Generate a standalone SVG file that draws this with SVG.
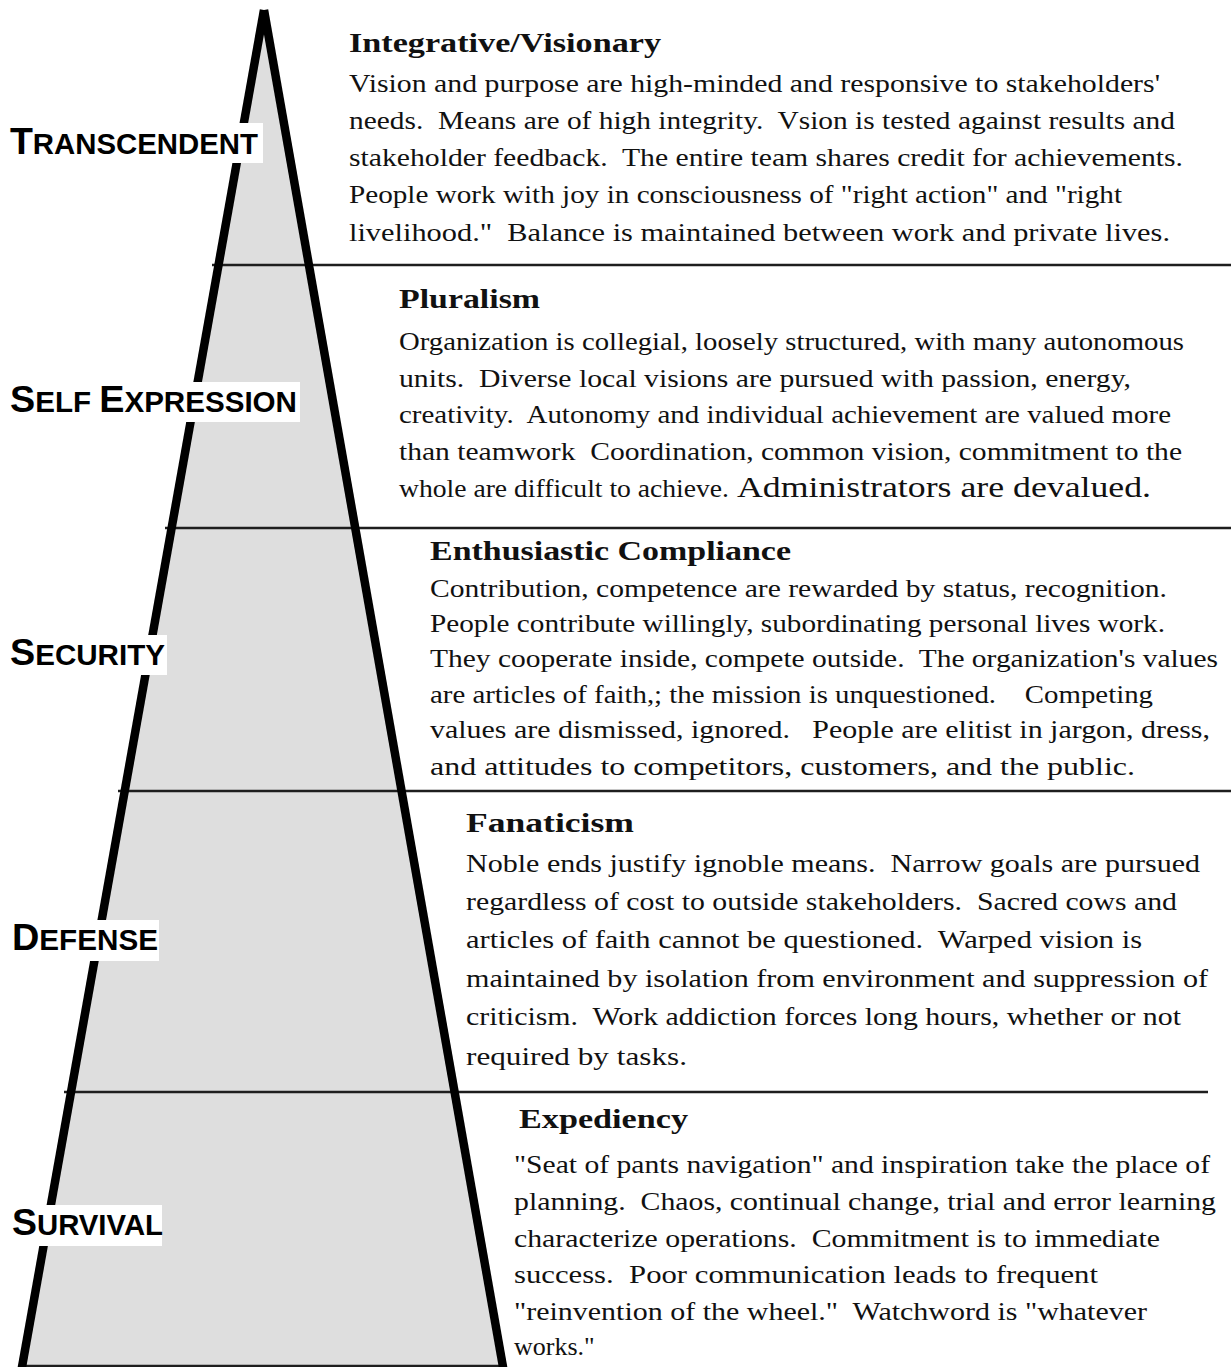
<svg xmlns="http://www.w3.org/2000/svg" width="1231" height="1367" viewBox="0 0 1231 1367">
<style>
.body{font-family:"Liberation Serif","Times New Roman",serif;font-size:26px;fill:#111;white-space:pre}
.big{font-size:29.5px}
.title{font-family:"Liberation Serif","Times New Roman",serif;font-size:28px;font-weight:bold;fill:#111}
.lbl{font-family:"Liberation Sans",Arial,sans-serif;font-weight:bold;font-size:29px;fill:#000}
.cap{font-size:37px}
.div{stroke:#1e1e1e;stroke-width:2.4;fill:none}
.side{stroke:#000;stroke-width:8.5;stroke-linecap:butt;fill:none}
.box{fill:#fff}
</style>
<g id="pyramid">
<polygon points="264,10 22,1367 503,1367" fill="#dedede"/>
</g>
<g id="connectors">
<line class="div" x1="212" y1="265" x2="1231" y2="265"/>
<line class="div" x1="165" y1="528" x2="1231" y2="528"/>
<line class="div" x1="118" y1="791" x2="1231" y2="791"/>
<line class="div" x1="64" y1="1092" x2="1208" y2="1092"/>
<line class="div" x1="20" y1="1366" x2="506" y2="1366"/>
</g>
<g id="pyramid-outline">
<line class="side" x1="264" y1="10" x2="21.1" y2="1372"/>
<line class="side" x1="264" y1="10" x2="503.9" y2="1372"/>
</g>
<g id="label-transcendent">
<rect class="box" x="0" y="123" width="263" height="40"/>
<text class="lbl" x="10" y="154" textLength="248" lengthAdjust="spacingAndGlyphs"><tspan class="cap">T</tspan>RANSCENDENT</text>
</g>
<g id="label-self-expression">
<rect class="box" x="0" y="382" width="300" height="40"/>
<text class="lbl" x="10" y="412" textLength="287" lengthAdjust="spacingAndGlyphs"><tspan class="cap">S</tspan>ELF <tspan class="cap">E</tspan>XPRESSION</text>
</g>
<g id="label-security">
<rect class="box" x="0" y="635" width="167" height="40"/>
<text class="lbl" x="10" y="665" textLength="155" lengthAdjust="spacingAndGlyphs"><tspan class="cap">S</tspan>ECURITY</text>
</g>
<g id="label-defense">
<rect class="box" x="0" y="920" width="159" height="41"/>
<text class="lbl" x="12" y="950" textLength="146" lengthAdjust="spacingAndGlyphs"><tspan class="cap">D</tspan>EFENSE</text>
</g>
<g id="label-survival">
<rect class="box" x="0" y="1205" width="162" height="41"/>
<text class="lbl" x="12" y="1235" textLength="151" lengthAdjust="spacingAndGlyphs"><tspan class="cap">S</tspan>URVIVAL</text>
</g>
<g id="node-integrative">
<text class="title" x="349" y="52" textLength="312" lengthAdjust="spacingAndGlyphs">Integrative/Visionary</text>
<text class="body" x="349" y="92" textLength="811" lengthAdjust="spacingAndGlyphs">Vision and purpose are high-minded and responsive to stakeholders'</text>
<text class="body" x="349" y="129" textLength="826" lengthAdjust="spacingAndGlyphs">needs.  Means are of high integrity.  Vsion is tested against results and</text>
<text class="body" x="349" y="166" textLength="834" lengthAdjust="spacingAndGlyphs">stakeholder feedback.  The entire team shares credit for achievements.</text>
<text class="body" x="349" y="203" textLength="773" lengthAdjust="spacingAndGlyphs">People work with joy in consciousness of "right action" and "right</text>
<text class="body" x="349" y="241" textLength="821" lengthAdjust="spacingAndGlyphs">livelihood."  Balance is maintained between work and private lives.</text>
</g>
<g id="node-pluralism">
<text class="title" x="399" y="308" textLength="141" lengthAdjust="spacingAndGlyphs">Pluralism</text>
<text class="body" x="399" y="350" textLength="785" lengthAdjust="spacingAndGlyphs">Organization is collegial, loosely structured, with many autonomous</text>
<text class="body" x="399" y="387" textLength="732" lengthAdjust="spacingAndGlyphs">units.  Diverse local visions are pursued with passion, energy,</text>
<text class="body" x="399" y="423" textLength="772" lengthAdjust="spacingAndGlyphs">creativity.  Autonomy and individual achievement are valued more</text>
<text class="body" x="399" y="460" textLength="783" lengthAdjust="spacingAndGlyphs">than teamwork  Coordination, common vision, commitment to the</text>
<text class="body" x="399" y="497" textLength="330" lengthAdjust="spacingAndGlyphs">whole are difficult to achieve.</text>
<text class="body big" x="737" y="497" textLength="414" lengthAdjust="spacingAndGlyphs">Administrators are devalued.</text>
</g>
<g id="node-enthusiastic">
<text class="title" x="430" y="560" textLength="361" lengthAdjust="spacingAndGlyphs">Enthusiastic Compliance</text>
<text class="body" x="430" y="597" textLength="737" lengthAdjust="spacingAndGlyphs">Contribution, competence are rewarded by status, recognition.</text>
<text class="body" x="430" y="632" textLength="735" lengthAdjust="spacingAndGlyphs">People contribute willingly, subordinating personal lives work.</text>
<text class="body" x="430" y="667" textLength="788" lengthAdjust="spacingAndGlyphs">They cooperate inside, compete outside.  The organization's values</text>
<text class="body" x="430" y="703" textLength="723" lengthAdjust="spacingAndGlyphs">are articles of faith,; the mission is unquestioned.    Competing</text>
<text class="body" x="430" y="738" textLength="780" lengthAdjust="spacingAndGlyphs">values are dismissed, ignored.   People are elitist in jargon, dress,</text>
<text class="body" x="430" y="775" textLength="705" lengthAdjust="spacingAndGlyphs">and attitudes to competitors, customers, and the public.</text>
</g>
<g id="node-fanaticism">
<text class="title" x="466" y="832" textLength="168" lengthAdjust="spacingAndGlyphs">Fanaticism</text>
<text class="body" x="466" y="872" textLength="734" lengthAdjust="spacingAndGlyphs">Noble ends justify ignoble means.  Narrow goals are pursued</text>
<text class="body" x="466" y="910" textLength="711" lengthAdjust="spacingAndGlyphs">regardless of cost to outside stakeholders.  Sacred cows and</text>
<text class="body" x="466" y="948" textLength="676" lengthAdjust="spacingAndGlyphs">articles of faith cannot be questioned.  Warped vision is</text>
<text class="body" x="466" y="987" textLength="742" lengthAdjust="spacingAndGlyphs">maintained by isolation from environment and suppression of</text>
<text class="body" x="466" y="1025" textLength="715" lengthAdjust="spacingAndGlyphs">criticism.  Work addiction forces long hours, whether or not</text>
<text class="body" x="466" y="1065" textLength="221" lengthAdjust="spacingAndGlyphs">required by tasks.</text>
</g>
<g id="node-expediency">
<text class="title" x="519" y="1128" textLength="169" lengthAdjust="spacingAndGlyphs">Expediency</text>
<text class="body" x="514" y="1173" textLength="696" lengthAdjust="spacingAndGlyphs">"Seat of pants navigation" and inspiration take the place of</text>
<text class="body" x="514" y="1210" textLength="702" lengthAdjust="spacingAndGlyphs">planning.  Chaos, continual change, trial and error learning</text>
<text class="body" x="514" y="1247" textLength="646" lengthAdjust="spacingAndGlyphs">characterize operations.  Commitment is to immediate</text>
<text class="body" x="514" y="1283" textLength="584" lengthAdjust="spacingAndGlyphs">success.  Poor communication leads to frequent</text>
<text class="body" x="514" y="1320" textLength="633" lengthAdjust="spacingAndGlyphs">"reinvention of the wheel."  Watchword is "whatever</text>
<text class="body" x="514" y="1355">works."</text>
</g>
</svg>
